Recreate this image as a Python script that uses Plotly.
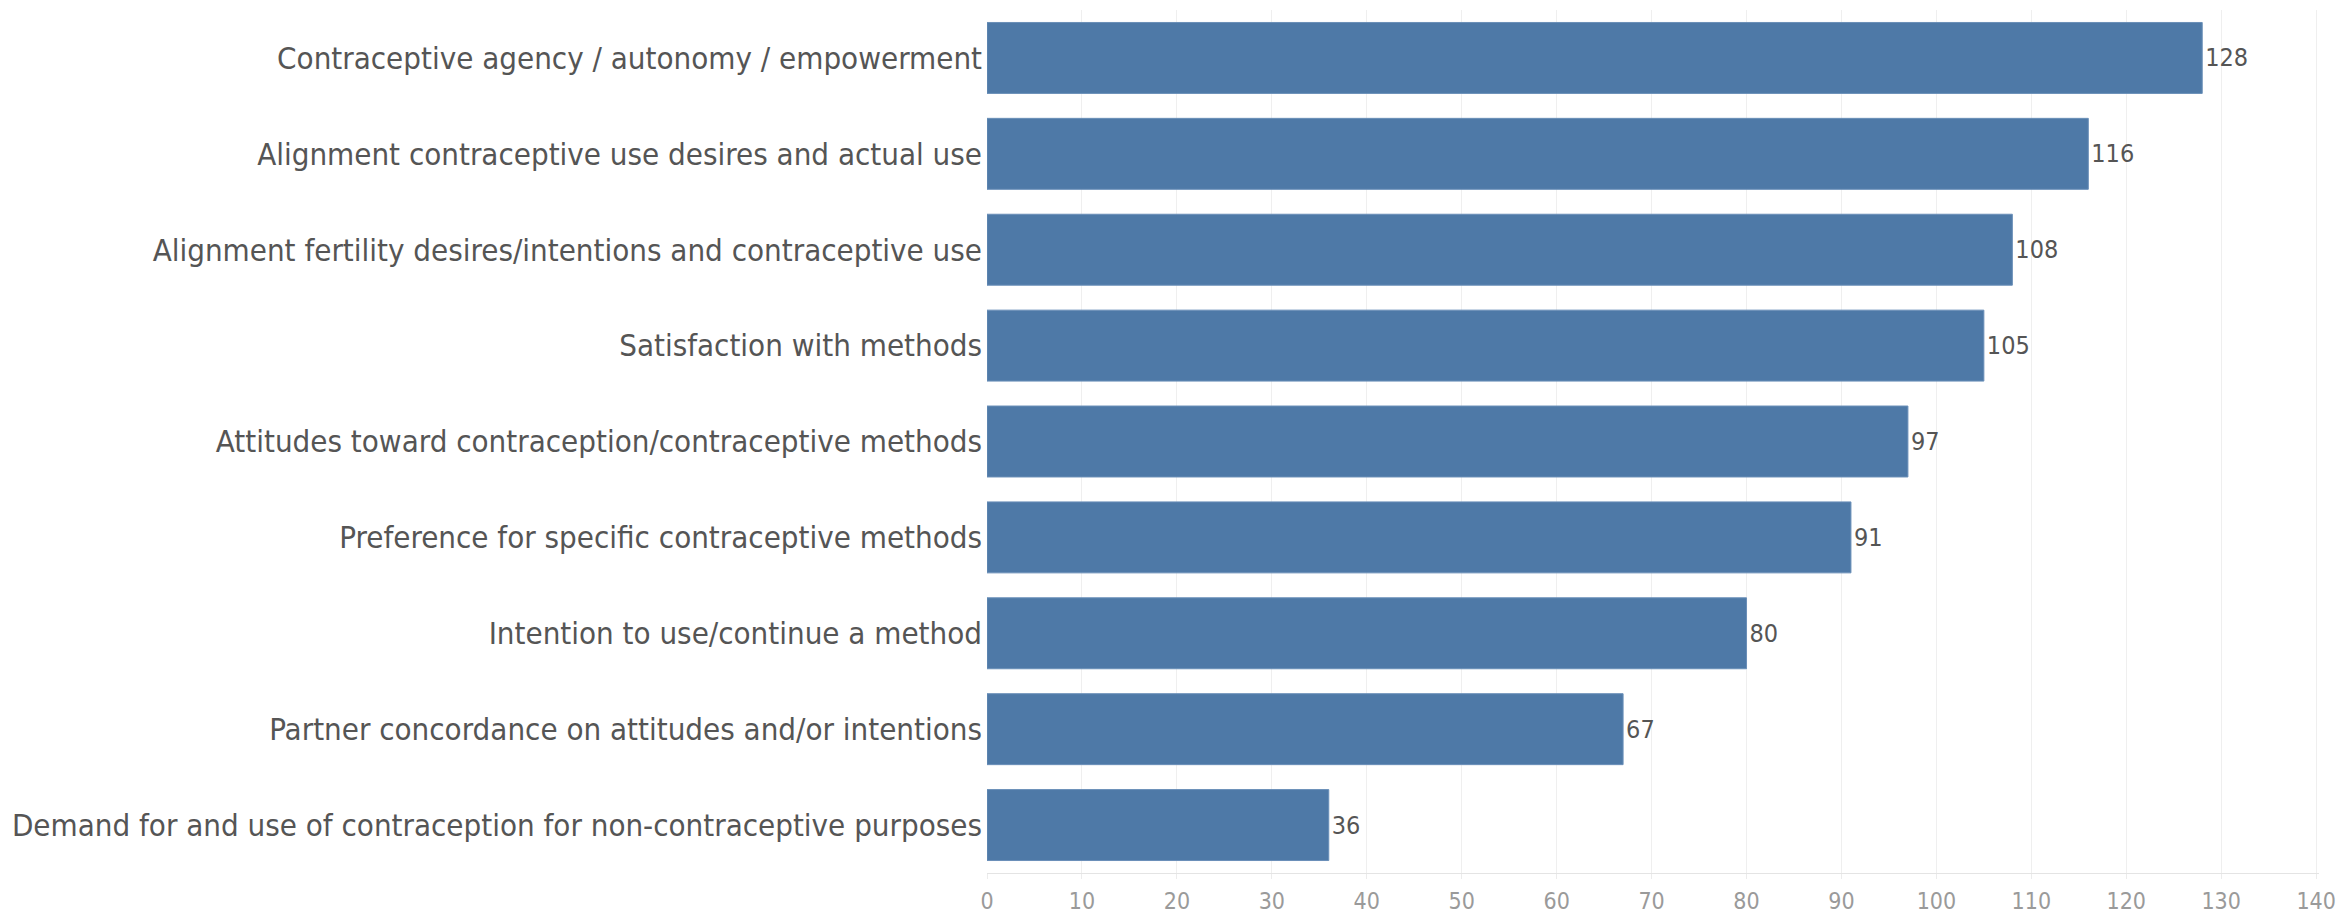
import plotly.graph_objects as go

categories = [
    "Contraceptive agency / autonomy / empowerment",
    "Alignment contraceptive use desires and actual use",
    "Alignment fertility desires/intentions and contraceptive use",
    "Satisfaction with methods",
    "Attitudes toward contraception/contraceptive methods",
    "Preference for specific contraceptive methods",
    "Intention to use/continue a method",
    "Partner concordance on attitudes and/or intentions",
    "Demand for and use of contraception for non-contraceptive purposes",
]
values = [128, 116, 108, 105, 97, 91, 80, 67, 36]
tick_vals = [0, 10, 20, 30, 40, 50, 60, 70, 80, 90, 100, 110, 120, 130, 140]

FONT = "Liberation Sans Narrow, DejaVu Sans Condensed, Arial Narrow, sans-serif"

fig = go.Figure(
    go.Bar(
        x=values,
        y=categories,
        orientation="h",
        marker=dict(color="#4e79a7", line=dict(color="#6a8fb8", width=1)),
        text=[str(v) for v in values],
        textposition="outside",
        textfont=dict(family=FONT, size=25, color="#555555"),
        cliponaxis=False,
        width=0.74,
    )
)

fig.update_layout(
    width=2343,
    height=921,
    margin=dict(l=987, r=24, t=10, b=48, autoexpand=False),
    paper_bgcolor="white",
    plot_bgcolor="white",
    showlegend=False,
    font=dict(family=FONT),
)
fig.update_xaxes(
    range=[0, 140.3],
    tickvals=tick_vals,
    ticktext=[str(t) for t in tick_vals],
    tickfont=dict(family=FONT, size=23, color="#9a9a9a"),
    showgrid=True,
    gridcolor="#efefef",
    gridwidth=1,
    zeroline=False,
    showline=True,
    linecolor="#e4e4e4",
    linewidth=1,
    ticks="outside",
    ticklen=5,
    tickcolor="#ececec",
    ticklabelstandoff=2,
    automargin=False,
    fixedrange=True,
)
fig.update_yaxes(
    categoryorder="array",
    categoryarray=categories[::-1],
    tickfont=dict(family=FONT, size=31, color="#555555"),
    showgrid=False,
    zeroline=False,
    showline=False,
    ticks="",
    ticklabelstandoff=4,
    automargin=False,
    fixedrange=True,
)

fig.write_html(
    "out.html",
    config={"displayModeBar": False},
    post_script="document.body.style.margin='0';document.body.style.overflow='hidden';",
)
